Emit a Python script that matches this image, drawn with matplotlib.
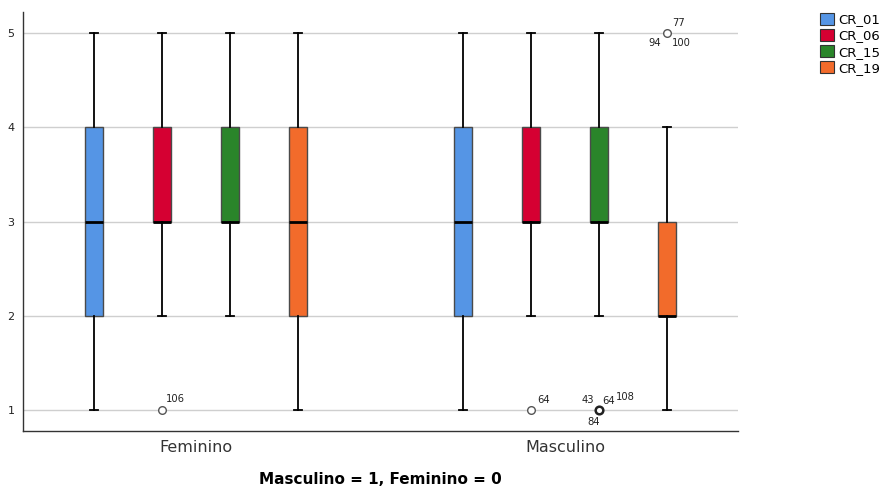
import matplotlib
matplotlib.use("Agg")
import matplotlib.pyplot as plt
from matplotlib.patches import Patch

# Groups and variables
groups = ["Feminino", "Masculino"]
variables = ["CR_01", "CR_06", "CR_15", "CR_19"]
colors = ["#5595E5", "#D50032", "#2A852A", "#F26B2B"]

# Five-number summaries per group (one value per variable)
fem_whislo = [1, 2, 2, 1]
fem_q1 = [2, 3, 3, 2]
fem_med = [3, 3, 3, 3]
fem_q3 = [4, 4, 4, 4]
fem_whishi = [5, 5, 5, 5]

masc_whislo = [1, 2, 2, 1]
masc_q1 = [2, 3, 3, 2]
masc_med = [3, 3, 3, 2]
masc_q3 = [4, 4, 4, 3]
masc_whishi = [5, 5, 5, 4]

# Outliers: (group index, variable index, value, case labels)
outliers = [
    (0, 1, 1, ["106"]),
    (1, 1, 1, ["64"]),
    (1, 2, 1, ["43", "64", "108", "84"]),
    (1, 3, 5, ["77", "94", "100"]),
]
# label offsets (points) for each case label
label_offsets = {
    "106": [(2.9, 7.9)],
    "64": [(4.3, 7.2)],
    "43 64 108 84": [(-12.2, 7.2), (2.2, 6.5), (12.2, 9.0), (-8.6, -8.6)],
    "77 94 100": [(4.0, 7.5), (-13.5, -7.2), (3.6, -7.2)],
}

summaries = [
    (fem_whislo, fem_q1, fem_med, fem_q3, fem_whishi),
    (masc_whislo, masc_q1, masc_med, masc_q3, masc_whishi),
]

fig = plt.figure(figsize=(8.86, 4.88), dpi=100)
ax = fig.add_axes([23 / 886, 57 / 488, 715 / 886, 419 / 488])

step = 0.1843
offsets = [-1.5 * step, -0.5 * step, 0.5 * step, 1.5 * step]
box_w = 0.049

for gi, (wlo, q1, med, q3, whi) in enumerate(summaries):
    for vi in range(len(variables)):
        stats = [dict(whislo=wlo[vi], q1=q1[vi], med=med[vi], q3=q3[vi],
                      whishi=whi[vi], fliers=[])]
        ax.bxp(stats, positions=[gi + offsets[vi]], widths=box_w,
               patch_artist=True, showfliers=False, manage_ticks=False,
               boxprops=dict(facecolor=colors[vi], edgecolor="#4a4a4a", linewidth=1.0),
               medianprops=dict(color="black", linewidth=2.0),
               whiskerprops=dict(color="black", linewidth=1.3),
               capprops=dict(color="black", linewidth=1.3),
               capwidths=box_w * 0.45, zorder=3)

for gi, vi, val, labels in outliers:
    x = gi + offsets[vi]
    bold = len(labels) > 1 and vi == 2
    ax.plot(x, val, marker="o", markersize=5.5, markerfacecolor="white",
            markeredgecolor="#222222" if bold else "#555555",
            markeredgewidth=1.8 if bold else 1.0, linestyle="none", zorder=4)
    offs = label_offsets[" ".join(labels)]
    for lab, (dx, dy) in zip(labels, offs):
        ax.annotate(lab, (x, val), xytext=(dx, dy), textcoords="offset points",
                    fontsize=7.2, color="#222222", ha="left", va="center",
                    zorder=5)

ax.set_xlim(-0.469, 1.469)
ax.set_ylim(0.777, 5.223)
ax.set_yticks([1, 2, 3, 4, 5])
ax.set_yticklabels(["1", "2", "3", "4", "5"], fontsize=8, color="#222222")
ax.set_xticks([0, 1])
ax.set_xticklabels(groups, fontsize=11.5, color="#333333")
ax.tick_params(axis="both", length=0)
ax.tick_params(axis="y", pad=6)
ax.tick_params(axis="x", pad=6.5)
ax.grid(axis="y", color="#CFCFCF", linewidth=1.0, zorder=0)
ax.set_axisbelow(True)
for side in ["top", "right"]:
    ax.spines[side].set_visible(False)
for side in ["left", "bottom"]:
    ax.spines[side].set_color("#333333")
    ax.spines[side].set_linewidth(1.0)

ax.set_xlabel("Masculino = 1, Feminino = 0", fontsize=11, fontweight="bold",
              labelpad=12)

handles = [Patch(facecolor=c, edgecolor="#333333", linewidth=0.8) for c in colors]
fig.legend(handles, variables, loc="upper left",
           bbox_to_anchor=(820 / 886, 1 - 13 / 488),
           frameon=False, fontsize=9.5, handlelength=1.05, handleheight=1.0,
           handletextpad=0.3, labelspacing=0.2, borderpad=0, borderaxespad=0)

fig.savefig("out.png", dpi=100)
